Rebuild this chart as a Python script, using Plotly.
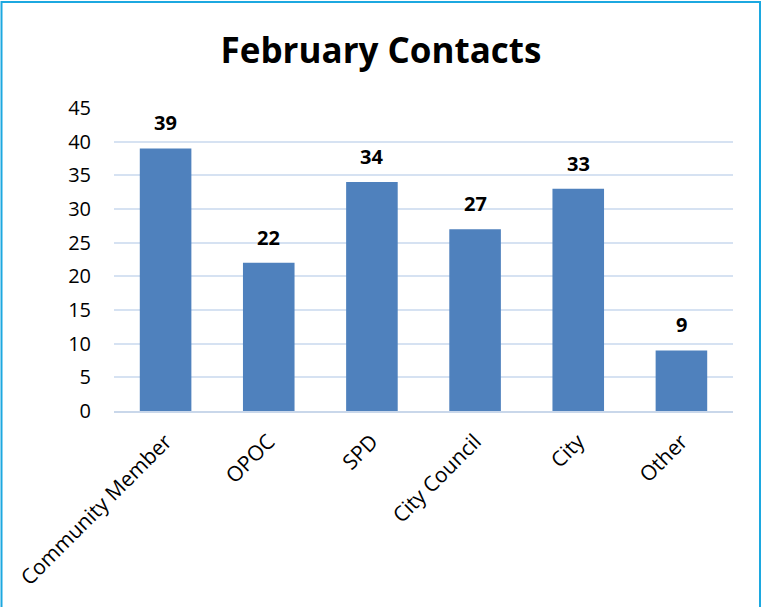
import plotly.graph_objects as go

categories = ["Community Member", "OPOC", "SPD", "City Council", "City", "Other"]
values = [39, 22, 34, 27, 33, 9]
y_ticks = [0, 5, 10, 15, 20, 25, 30, 35, 40, 45]

W, H = 762, 607
ml, mr, mt, mb = 114, 29, 108, 196
pw = W - ml - mr
ph = H - mt - mb

FONT = "Open Sans"

fig = go.Figure()
fig.add_trace(go.Bar(
    x=categories, y=values,
    marker=dict(color="#4F81BD", line=dict(width=0)),
    hoverinfo="x+y",
))

for c, v in zip(categories, values):
    fig.add_annotation(
        x=c, y=v, text=f"<b>{v}</b>", showarrow=False,
        yanchor="bottom", yshift=10,
        font=dict(family=FONT, size=20, color="#000000"),
    )

# border around the whole chart
fig.add_shape(
    type="rect", xref="paper", yref="paper",
    x0=(1.5 - ml) / pw, x1=(760 - ml) / pw,
    y0=-(mb + 5) / ph, y1=1 + (mt - 2) / ph,
    line=dict(color="#1CA8E0", width=2), fillcolor="rgba(0,0,0,0)",
    layer="above",
)

fig.update_layout(
    width=W, height=H,
    margin=dict(l=ml, r=mr, t=mt, b=mb),
    paper_bgcolor="white", plot_bgcolor="white",
    bargap=0.5,
    showlegend=False,
    title=dict(
        text="<b>February Contacts</b>",
        x=0.5, xref="container", xanchor="center",
        y=1 - 51 / H, yref="container", yanchor="middle",
        font=dict(family=FONT, size=35, color="#000000"),
    ),
    font=dict(family=FONT, color="#000000"),
    xaxis=dict(
        tickangle=-45,
        tickfont=dict(family=FONT, size=21, color="#000000"),
        showline=True, linecolor="#C9D7EA", linewidth=2,
        showgrid=False, ticks="",
        ticklabelstandoff=8,
    ),
    yaxis=dict(
        range=[0, 45], tickvals=y_ticks,
        tickfont=dict(family=FONT, size=20, color="#000000"),
        showgrid=True, gridcolor="#D6E2F2", gridwidth=2,
        zeroline=False, showline=False, ticks="",
        ticklabelstandoff=22,
    ),
)

fig.write_html("out.html", config={"displayModeBar": False},
               post_script="document.body.style.margin='0';")
